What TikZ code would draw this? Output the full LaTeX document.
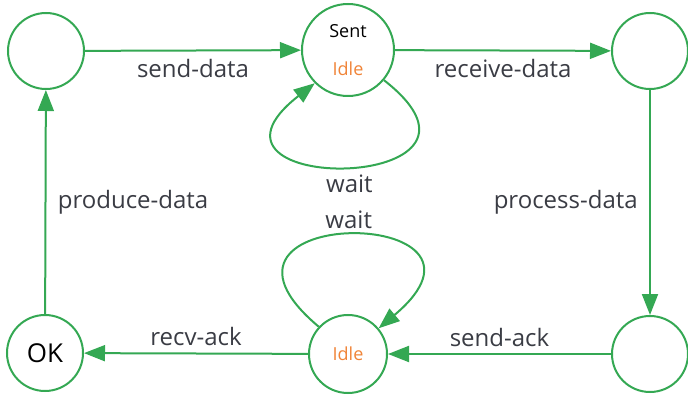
\documentclass[tikz,border=0pt]{standalone}
\usepackage{fontspec}
\setmainfont{Open Sans}
\usetikzlibrary{arrows.meta}
\definecolor{edgegreen}{RGB}{52,168,83}
\definecolor{idleorange}{RGB}{240,132,56}
\definecolor{labelgray}{RGB}{58,60,68}
\begin{document}
\begin{tikzpicture}[x=1pt,y=1pt,line width=2pt,
  state/.style={draw=edgegreen,circle,minimum size=76pt,inner sep=0pt,font=\fontsize{26}{30}\selectfont},
  trans/.style={draw=edgegreen,-{Triangle[length=21pt,width=16pt]}},
  lbl/.style={text=labelgray,font=\fontsize{24}{28}\selectfont}]
\useasboundingbox (0,0) rectangle (688,394);
\node[state] (ready) at (46,343) {};
\node[state,minimum size=92pt,align=center,font=\fontsize{18}{38}\selectfont] (sent) at (348,344) {Sent\\ \textcolor{idleorange}{Idle}};
\node[state] (recv) at (650,343) {};
\node[state] (proc) at (650,40) {};
\node[state,minimum size=78pt,text=idleorange,font=\fontsize{18}{22}\selectfont] (idle) at (348,40) {Idle};
\node[state] (ok) at (45,41) {OK};
% top row
\draw[trans] (ready) -- (sent) node[lbl,midway,below=4pt] {send-data};
\draw[trans] (sent) -- (recv) node[lbl,midway,below=4pt] {receive-data};
\draw[trans] (sent.-40) to[out=-38,in=-142,looseness=6.8] node[lbl,below=4pt] {wait} (sent.-135);
% right side and bottom row
\draw[trans] (recv) -- (proc) node[lbl,midway,left=8pt] {process-data};
\draw[trans] (proc) -- (idle) node[lbl,midway,above=3pt] {send-ack};
\draw[trans] (idle.137) to[out=140,in=40,looseness=8.2] node[lbl,above=2pt] {wait} (idle.40);
\draw[trans] (idle) -- (ok) node[lbl,midway,above=3pt] {recv-ack};
\draw[trans] (ok) -- (ready) node[lbl,midway,right=8pt] {produce-data};
\end{tikzpicture}
\end{document}
